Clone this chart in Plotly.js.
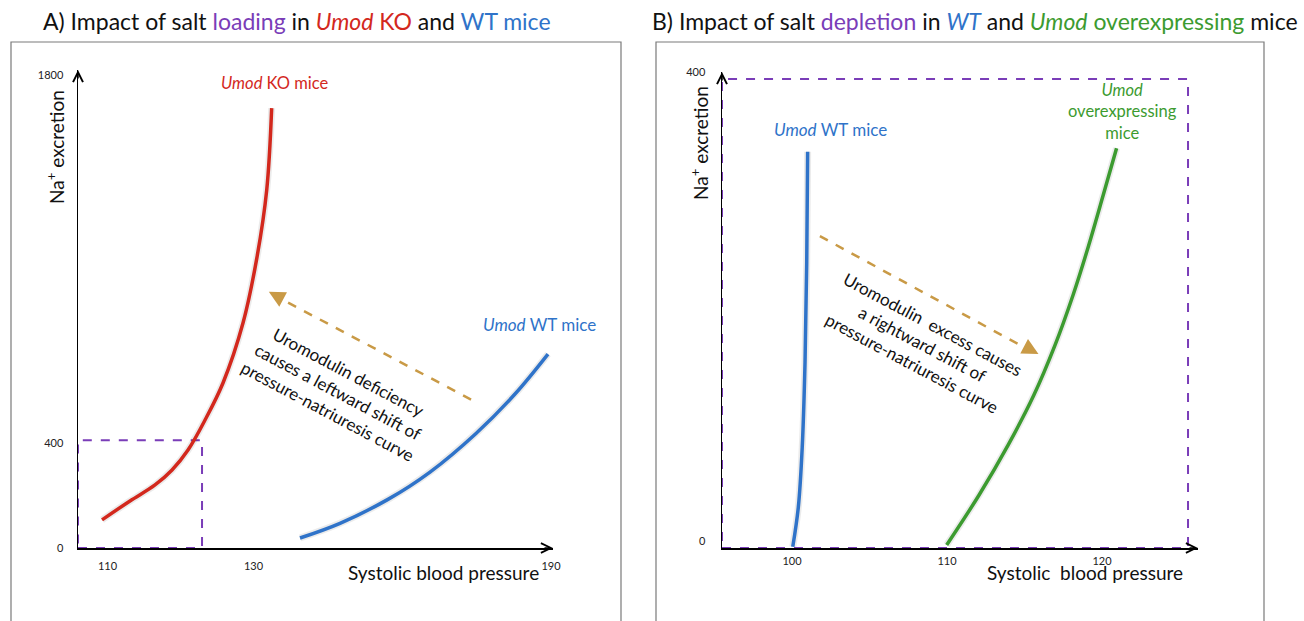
<!DOCTYPE html>
<html>
<head>
<meta charset="utf-8">
<script src="https://cdn.plot.ly/plotly-3.0.1.min.js"></script>
<style>html,body{margin:0;padding:0;background:#fff;}#chart{width:1304px;height:621px;}</style>
</head>
<body>
<div id="chart"></div>
<script>
// ---------- Data (schematic values) ----------
// Panel A: salt loading
const koPressureA = [109.25, 113.08, 116.51, 118.84, 121.03, 123.36, 125.82, 128.56, 130.48, 131.81, 132.49];
const koNaA       = [107, 179, 240, 297, 373, 487, 628, 856, 1107, 1362, 1674];
const wtPressureA = [136.37, 141.85, 148.42, 154.18, 160.48, 165.82, 170.34];
const wtNaA       = [38, 94, 185, 289, 436, 586, 738];
const xTickPosA   = [110, 130, 170.75];
const xTickTextA  = ['110', '130', '190'];
const yTickA      = [0, 400, 1800];
// Panel B: salt depletion
const wtPressureB = [100.05, 100.41, 100.66, 100.84, 100.95, 101.01];
const wtNaB       = [1, 35, 86, 158, 243, 338];
const oePressureB = [109.98, 112.06, 113.95, 115.59, 116.97, 118.14, 119.14, 120.08, 120.94];
const oeNaB       = [2.6, 45, 88, 130, 173, 216, 258, 301, 341];
const xTickB      = [100, 110, 120];
const yTickB      = [0, 400];

// ---------- Layout helpers ----------
const W = 1304, H = 621;
const px = x => x / W;
const py = y => 1 - y / H;
const FONT = 'Lato, "Open Sans", sans-serif';
const RED = '#d3281d', BLUE = '#2f73c9', GREEN = '#3c9b30', PURPLE = '#7a3db8', ORANGE = '#c99a46';

// axis calibration (pixels)
const axA = {x0: 78, x1: 553, y0: 548, y1: 70};
const axB = {x0: 722, x1: 1198, y0: 548, y1: 72};
const xRangeA = [110 - (107.5 - axA.x0) / 7.3, 110 + (axA.x1 - 107.5) / 7.3];
const yRangeA = [0, (axA.y0 - axA.y1) / (473 / 1800)];
const xRangeB = [100 - (792 - axB.x0) / 15.5, 100 + (axB.x1 - 792) / 15.5];
const yRangeB = [0, (axB.y0 - axB.y1) / (469 / 400)];

function curve(x, y, color, xa, ya) {
  return [
    {x: x, y: y, xaxis: xa, yaxis: ya, type: 'scatter', mode: 'lines', hoverinfo: 'skip',
     line: {color: 'rgba(0,0,0,0.08)', width: 7, shape: 'spline', smoothing: 1}, showlegend: false},
    {x: x, y: y, xaxis: xa, yaxis: ya, type: 'scatter', mode: 'lines',
     line: {color: color, width: 3.5, shape: 'spline', smoothing: 1}, showlegend: false}
  ];
}

const data = [].concat(
  curve(koPressureA, koNaA, RED, 'x', 'y'),
  curve(wtPressureA, wtNaA, BLUE, 'x', 'y'),
  curve(wtPressureB, wtNaB, BLUE, 'x2', 'y2'),
  curve(oePressureB, oeNaB, GREEN, 'x2', 'y2')
);

function axis(domain, range, tickvals, ticktext, standoff) {
  return {
    domain: domain, range: range, showgrid: false, zeroline: false,
    showline: true, linecolor: '#000', linewidth: 1.5, ticks: '',
    tickvals: tickvals, ticktext: ticktext || tickvals.map(String),
    tickfont: {family: FONT, size: 11, color: '#222'},
    ticklabelstandoff: standoff, fixedrange: true
  };
}

function label(x, y, text, size, color, extra) {
  return Object.assign({xref: 'paper', yref: 'paper', x: px(x), y: py(y), showarrow: false,
    xanchor: 'center', yanchor: 'middle', align: 'center',
    font: {family: FONT, size: size, color: color}, text: text}, extra || {});
}

function head(xref, yref, x, y, ax, ay, color, style, size, width) {
  return {xref: xref, yref: yref, x: x, y: y, text: '', showarrow: true, arrowhead: style,
    arrowsize: size, arrowwidth: width, arrowcolor: color, ax: ax, ay: ay, standoff: 0};
}

const layout = {
  width: W, height: H,
  margin: {l: 0, r: 0, t: 0, b: 0},
  paper_bgcolor: '#fff', plot_bgcolor: 'rgba(0,0,0,0)',
  showlegend: false,
  xaxis: Object.assign(axis([px(axA.x0), px(axA.x1)], xRangeA, xTickPosA, xTickTextA, 7), {anchor: 'y'}),
  yaxis: Object.assign(axis([py(axA.y0), py(axA.y1)], yRangeA, yTickA, null, 11), {anchor: 'x'}),
  xaxis2: Object.assign(axis([px(axB.x0), px(axB.x1)], xRangeB, xTickB, null, 2), {anchor: 'y2'}),
  yaxis2: Object.assign(axis([py(axB.y0), py(axB.y1)], yRangeB, yTickB, null, 13), {anchor: 'x2', ticklabelshift: -7}),
  shapes: [
    // panel borders
    {type: 'rect', xref: 'paper', yref: 'paper', x0: px(11), x1: px(621), y0: py(640), y1: py(42),
     line: {color: '#7a7a7a', width: 1.2}, layer: 'below'},
    {type: 'rect', xref: 'paper', yref: 'paper', x0: px(656), x1: px(1264), y0: py(640), y1: py(42),
     line: {color: '#7a7a7a', width: 1.2}, layer: 'below'},
    // purple dashed boxes
    {type: 'rect', xref: 'x', yref: 'y', x0: xRangeA[0], x1: 122.95, y0: 0, y1: 410,
     line: {color: PURPLE, width: 2, dash: 'dash'}, layer: 'below'},
    {type: 'rect', xref: 'x2', yref: 'y2', x0: xRangeB[0], x1: 125.55, y0: 0, y1: 400,
     line: {color: PURPLE, width: 2, dash: 'dash'}, layer: 'below'},
    // dashed orange arrows (shafts)
    {type: 'line', xref: 'x', yref: 'y', x0: 159.8, y0: 565, x1: 133.5, y1: 952,
     line: {color: ORANGE, width: 2.5, dash: 'dash'}},
    {type: 'line', xref: 'x2', yref: 'y2', x0: 101.8, y0: 266, x1: 115.0, y1: 171,
     line: {color: ORANGE, width: 2.5, dash: 'dash'}}
  ],
  annotations: [
    // titles
    label(297, 21, 'A) Impact of salt <span style="color:' + PURPLE + '">loading</span> in <span style="color:' + RED + '"><i>Umod</i> KO</span> and <span style="color:' + BLUE + '">WT mice</span>', 23, '#111'),
    label(975, 21, 'B) Impact of salt <span style="color:' + PURPLE + '">depletion</span> in <span style="color:' + BLUE + '"><i>WT</i></span> and <span style="color:' + GREEN + '"><i>Umod</i> overexpressing</span> mice', 23, '#111'),
    // axis titles
    label(56, 147, 'Na<sup>+</sup> excretion', 19, '#111', {textangle: -90}),
    label(699, 143, 'Na<sup>+</sup> excretion', 19, '#111', {textangle: -90}),
    label(444, 572, 'Systolic blood pressure', 19, '#111'),
    label(1085, 572, 'Systolic&nbsp;&nbsp;blood pressure', 19, '#111'),
    // curve labels
    label(274, 83, '<i>Umod</i> KO mice', 16.5, RED),
    label(539, 324, '<i>Umod</i> WT mice', 17, BLUE),
    label(830, 129, '<i>Umod</i> WT mice', 17, BLUE),
    label(1122, 111, '<i>Umod</i><br>overexpressing<br>mice', 16.5, GREEN),
    // rotated explanations
    label(338, 391, 'Uromodulin deficiency<br>causes a leftward shift of<br>pressure-natriuresis curve', 17, '#111', {textangle: 28}),
    label(922, 343, 'Uromodulin&nbsp;&nbsp;excess causes<br>a rightward shift of<br>pressure-natriuresis curve', 17, '#111', {textangle: 28}),
    // orange arrow heads
    head('x', 'y', 132.1, 975, 13, 7, ORANGE, 2, 1.3, 2.5),
    head('x2', 'y2', 115.9, 165.5, -13, -7, ORANGE, 2, 1.3, 2.5),
    // axis arrow heads
    head('x', 'y', xRangeA[1], 0, -10, 0, '#000', 5, 1.3, 1.5),
    head('x', 'y', xRangeA[0], yRangeA[1], 0, 10, '#000', 5, 1.3, 1.5),
    head('x2', 'y2', xRangeB[1], 0, -10, 0, '#000', 5, 1.3, 1.5),
    head('x2', 'y2', xRangeB[0], yRangeB[1], 0, 10, '#000', 5, 1.3, 1.5)
  ]
};

Plotly.newPlot('chart', data, layout, {displayModeBar: false, staticPlot: true});
</script>
</body>
</html>
